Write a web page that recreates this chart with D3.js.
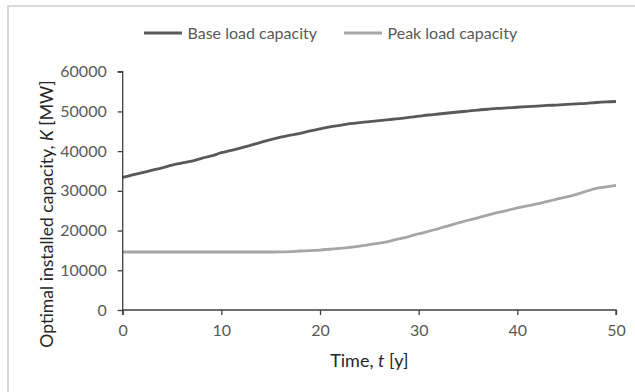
<!DOCTYPE html>
<html><head><meta charset="utf-8">
<script src="https://cdn.jsdelivr.net/npm/d3@7"></script>
<style>
html,body{margin:0;padding:0;background:#fff;}
svg{display:block;}
text{font-family:Lato,"Open Sans",sans-serif;}
</style></head>
<body>
<svg id="chart" width="635" height="392"></svg>
<script>
const years = d3.range(0, 51);
const baseLoad = [33400,34000,34600,35200,35800,36500,37000,37500,38200,38800,
  39600,40200,40800,41500,42200,42900,43500,44000,44500,45100,
  45600,46100,46500,46900,47200,47450,47700,47950,48200,48500,
  48800,49100,49350,49600,49850,50100,50350,50550,50750,50900,
  51050,51200,51350,51500,51600,51750,51900,52050,52250,52400,52500];
const peakLoad = [14600,14600,14600,14600,14600,14600,14600,14600,14600,14600,
  14600,14600,14600,14600,14600,14600,14620,14700,14850,14950,
  15100,15300,15500,15750,16100,16450,16850,17300,17900,18500,
  19200,19800,20500,21200,21900,22600,23200,23900,24500,25100,
  25700,26200,26700,27300,27900,28500,29100,29900,30600,31000,31400];
const seriesNames = ["Base load capacity","Peak load capacity"];
const seriesColors = ["#595959","#a6a6a6"];
const xTicks = [0,10,20,30,40,50];
const yTicks = [0,10000,20000,30000,40000,50000,60000];

const svg = d3.select("#chart");
// outer frame
svg.append("rect").attr("x",8).attr("y",6).attr("width",640).attr("height",400)
  .attr("fill","#fff").attr("stroke","#d9d9d9").attr("stroke-width",2);

const x = d3.scaleLinear().domain([0,50]).range([122.7,616]);
const y = d3.scaleLinear().domain([0,60000]).range([310,71.7]);

const series = [baseLoad, peakLoad];
const line = d3.line().x((d,i)=>x(years[i])).y(d=>y(d)).curve(d3.curveMonotoneX);
series.forEach((s,k)=>{
  svg.append("path").datum(s).attr("d",line).attr("fill","none")
    .attr("stroke",seriesColors[k]).attr("stroke-width",2.8).attr("stroke-linejoin","round");
});

const yAxis = svg.append("g").attr("transform",`translate(${x(0)},0)`)
  .call(d3.axisLeft(y).tickValues(yTicks).tickSize(5).tickPadding(11).tickFormat(d3.format("d")));
const xAxis = svg.append("g").attr("transform",`translate(0,${y(0)})`)
  .call(d3.axisBottom(x).tickValues(xTicks).tickSize(5).tickPadding(10).tickFormat(d3.format("d")));
[yAxis,xAxis].forEach(a=>{
  a.select(".domain").attr("stroke","#404040").attr("stroke-width",1.3);
  a.selectAll(".tick line").attr("stroke","#404040").attr("stroke-width",1.3);
  a.selectAll(".tick text").attr("fill","#595959").style("font-size","16px").style("font-family","Lato, sans-serif");
});
yAxis.select(".domain").attr("d",`M-5,${y(60000)}H0V${y(0)}`);
xAxis.select(".domain").attr("d",`M${x(0)},5V0H${x(50)}V5`);

// axis titles
svg.append("text").attr("transform",`translate(53,214) rotate(-90)`)
  .attr("text-anchor","middle").attr("fill","#262626").style("font-size","17.6px")
  .html('Optimal installed capacity, <tspan font-style="italic">K</tspan> [MW]');
svg.append("text").attr("x",(x(0)+x(50))/2).attr("y",367)
  .attr("text-anchor","middle").attr("fill","#262626").style("font-size","18px")
  .html('Time, <tspan font-style="italic">t</tspan> [y]');

// legend
const legendX = [144,344];
seriesNames.forEach((n,k)=>{
  svg.append("line").attr("x1",legendX[k]).attr("x2",legendX[k]+38).attr("y1",33).attr("y2",33)
    .attr("stroke",seriesColors[k]).attr("stroke-width",2.8);
  svg.append("text").attr("x",legendX[k]+43.5).attr("y",39).attr("fill","#595959")
    .style("font-size","16px").text(n);
});
</script>
</body></html>
